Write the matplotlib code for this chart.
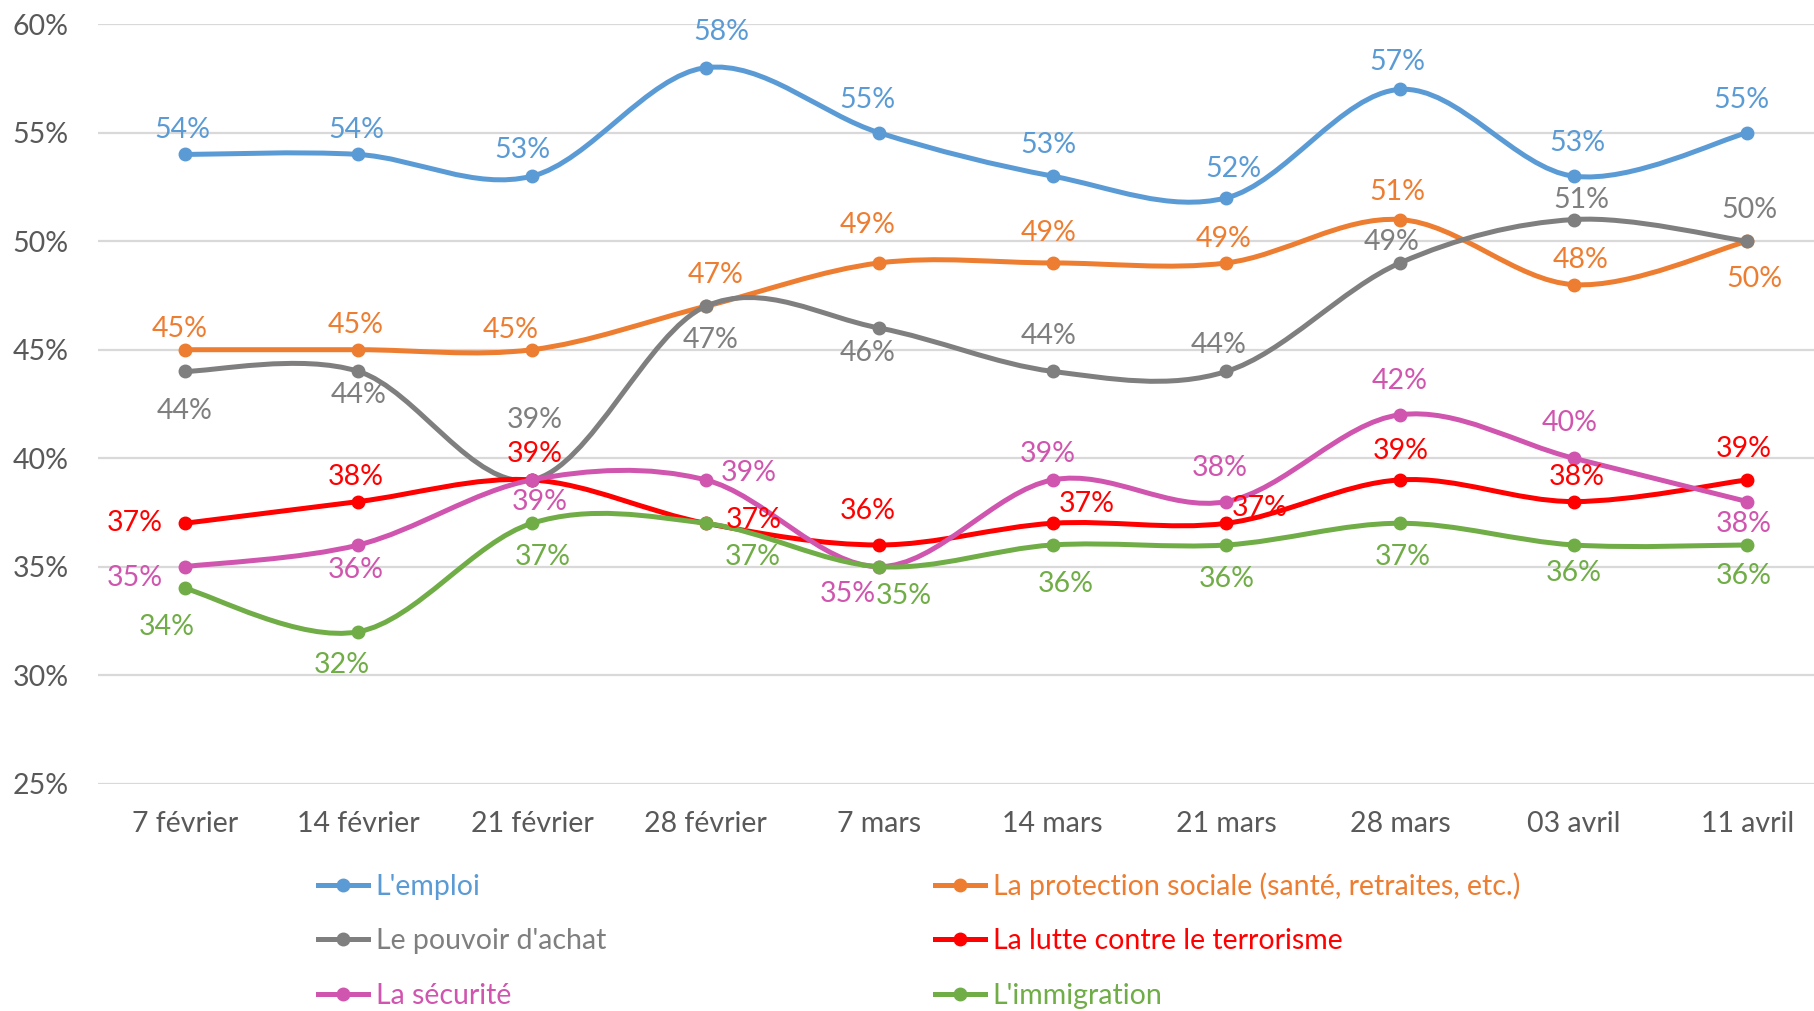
import numpy as np
import matplotlib.pyplot as plt
from matplotlib.path import Path
from matplotlib.patches import PathPatch
from matplotlib.lines import Line2D

plt.rcParams['font.family'] = ['Lato', 'DejaVu Sans']

dates = ['7 février', '14 février', '21 février', '28 février', '7 mars',
         '14 mars', '21 mars', '28 mars', '03 avril', '11 avril']

emploi = [54, 54, 53, 58, 55, 53, 52, 57, 53, 55]
protection = [45, 45, 45, 47, 49, 49, 49, 51, 48, 50]
pouvoir = [44, 44, 39, 47, 46, 44, 44, 49, 51, 50]
terrorisme = [37, 38, 39, 37, 36, 37, 37, 39, 38, 39]
securite = [35, 36, 39, 39, 35, 39, 38, 42, 40, 38]
immigration = [34, 32, 37, 37, 35, 36, 36, 37, 36, 36]

names = ["L'emploi", "La protection sociale (santé, retraites, etc.)",
         "Le pouvoir d'achat", "La lutte contre le terrorisme",
         "La sécurité", "L'immigration"]
colors = ['#5B9BD5', '#ED7D31', '#7F7F7F', '#FF0000', '#D055AE', '#70AD47']

# label offsets (pixels) relative to each point
offsets = [
    [(-2, -21), (-2, -21), (-8, -23), (14, -31), (-10, -28), (-4, -27), (6, -25), (-2, -24), (3, -29), (-5, -28)],
    [(-4, -18), (-2, -21), (-18, -17), (9, -27), (-10, -33), (-4, -26), (-2, -21), (-2, -24), (6, -21), (6, 33)],
    [(0, 34), (0, 20), (2, -52), (4, 29), (-10, 22), (-4, -31), (-7, -23), (-7, -18), (7, -17), (2, -27)],
    [(-43, 0), (-2, -21), (2, -22), (42, -3), (-10, -29), (29, -17), (29, -13), (1, -25), (3, -21), (-3, -27)],
    [(-43, 10), (-2, 22), (7, 19), (37, -6), (-27, 24), (-4, -22), (-6, -29), (0, -29), (-3, -30), (-3, 19)],
    [(-16, 33), (-14, 29), (9, 29), (41, 29), (21, 25), (11, 34), (0, 29), (2, 29), (0, 24), (-3, 27)],
]

FS = 20.5


def smooth_path(xs, ys, t=1 / 6):
    # cubic bezier through every point (Catmull-Rom style)
    pts = np.column_stack([xs, ys]).astype(float)
    n = len(pts)
    verts = [pts[0]]
    codes = [Path.MOVETO]
    for i in range(n - 1):
        p0 = pts[i - 1] if i > 0 else pts[i]
        p1, p2 = pts[i], pts[i + 1]
        p3 = pts[i + 2] if i + 2 < n else pts[i + 1]
        c1 = p1 + (p2 - p0) * t
        c2 = p2 - (p3 - p1) * t
        verts += [c1, c2, p2]
        codes += [Path.CURVE4] * 3
    return Path(verts, codes)


fig = plt.figure(figsize=(18.15, 10.11), dpi=100)
ax = fig.add_axes([98 / 1815, 1 - 783.6 / 1011, (1834 - 98) / 1815, (783.6 - 24.3) / 1011])

x = np.arange(len(dates))
series = [emploi, protection, pouvoir, terrorisme, securite, immigration]
scale = 1815 / 1568

for k, (vals, col) in enumerate(zip(series, colors)):
    y = np.array(vals) / 100
    ax.add_patch(PathPatch(smooth_path(x, y), facecolor='none', edgecolor=col,
                           lw=3.6, capstyle='round', joinstyle='round', zorder=3 + k))
    ax.plot(x, y, 'o', color=col, ms=9, zorder=3 + k)
    for xi, yi, v, (dx, dy) in zip(x, y, vals, offsets[k]):
        ax.annotate(f'{v}%', (xi, yi), xytext=(dx * scale, -dy * scale),
                    textcoords='offset pixels', ha='center', va='center',
                    color=col, fontsize=FS, zorder=10)

ax.set_xlim(-0.5, 9.5)
ax.set_ylim(0.25, 0.60)
ax.set_yticks(np.arange(0.25, 0.601, 0.05))
ax.set_yticklabels([f'{int(round(v * 100))}%' for v in np.arange(0.25, 0.601, 0.05)])
ax.set_xticks(x)
ax.set_xticklabels(dates)
ax.tick_params(axis='both', length=0, labelsize=FS, labelcolor='#595959')
ax.tick_params(axis='x', pad=20)
ax.tick_params(axis='y', pad=21)
ax.grid(axis='y', color='#D9D9D9', lw=1.6)
ax.set_axisbelow(True)
for s in ax.spines.values():
    s.set_visible(False)

handles = [Line2D([], [], color=c, lw=3.6, marker='o', ms=9) for c in colors]
order = [0, 2, 4, 1, 3, 5]
fig.legend([handles[i] for i in order], [names[i] for i in order],
           ncol=2, loc='upper left', bbox_to_anchor=(318 / 1815, 1 - 872 / 1011),
           frameon=False, fontsize=FS, labelcolor='linecolor',
           handlelength=1.75, handletextpad=0.28, columnspacing=11.55,
           labelspacing=1.0, borderaxespad=0, borderpad=0)

fig.savefig('out.png', dpi=100)
